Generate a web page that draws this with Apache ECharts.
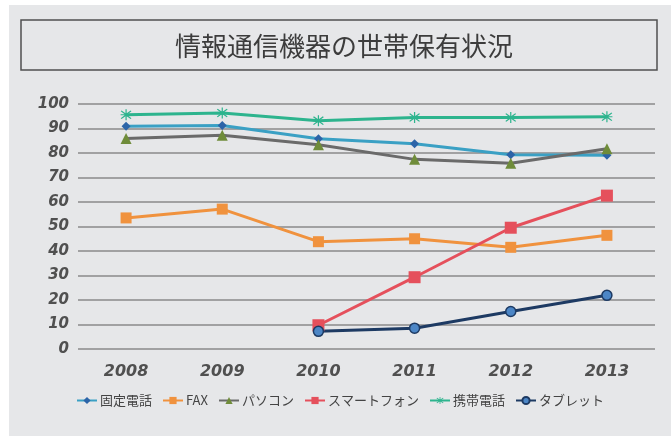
<!DOCTYPE html>
<html>
<head>
<meta charset="utf-8">
<script src="https://cdn.jsdelivr.net/npm/echarts@6/dist/echarts.min.js"></script>
<style>
  body { margin: 0; background: #ffffff; }
  #chart { position: absolute; left: 9px; top: 5px; width: 662px; height: 431px; background: #e6e7e9; }
</style>
</head>
<body>
<div id="chart"></div>
<script>
// データ (単位: %)
const years = ['2008', '2009', '2010', '2011', '2012', '2013'];
const koteiDenwa = [90.9, 91.2, 85.8, 83.8, 79.3, 79.1];
const fax = [53.5, 57.1, 43.8, 45.0, 41.5, 46.4];
const pasokon = [85.9, 87.2, 83.4, 77.4, 75.8, 81.7];
const sumaho = [null, null, 9.7, 29.3, 49.5, 62.6];
const keitai = [95.6, 96.3, 93.2, 94.5, 94.5, 94.8];
const tablet = [null, null, 7.2, 8.5, 15.3, 21.9];

const asterisk = 'path://M4,0L5,0L5,3.6L8.2,1.1L8.9,1.8L5.7,4.5L9,4.5L9,5.5L5.7,5.5L8.9,8.2L8.2,8.9L5,6.4L5,10L4,10L4,6.4L0.8,8.9L0.1,8.2L3.3,5.5L0,5.5L0,4.5L3.3,4.5L0.1,1.8L0.8,1.1L4,3.6Z';

const chart = echarts.init(document.getElementById('chart'));

function line(name, data, color, symbol, size, itemStyle) {
  return {
    name: name,
    type: 'line',
    data: data,
    symbol: symbol,
    symbolSize: size,
    showSymbol: true,
    lineStyle: { color: color, width: 3 },
    itemStyle: itemStyle || { color: color },
    emphasis: { disabled: true }
  };
}

const option = {
  animation: false,
  backgroundColor: '#e6e7e9',
  graphic: [{
    type: 'rect',
    shape: { x: 12, y: 15, width: 636, height: 50 },
    style: { fill: 'none', stroke: '#505050', lineWidth: 1.5 }
  }],
  title: {
    text: '情報通信機器の世帯保有状況',
    left: 330,
    textAlign: 'center',
    top: 23,
    textStyle: { fontFamily: 'Noto Sans CJK JP', fontSize: 26, fontWeight: 'normal', color: '#3c3c3c' }
  },
  legend: {
    top: 384,
    left: 'center',
    itemWidth: 20,
    itemHeight: 9,
    itemGap: 10,
    textStyle: { fontFamily: 'Noto Sans CJK JP', fontSize: 13, color: '#444', padding: [0, 0, 0, -2] },
    data: ['固定電話', 'FAX', 'パソコン', 'スマートフォン', '携帯電話', 'タブレット']
  },
  grid: { left: 69, right: 16, top: 99, bottom: 87 },
  xAxis: {
    type: 'category',
    data: years,
    boundaryGap: true,
    axisLine: { show: false },
    axisTick: { show: false },
    axisLabel: {
      margin: 15,
      fontFamily: 'DejaVu Sans',
      fontSize: 16,
      fontWeight: 'bold',
      fontStyle: 'italic',
      color: '#505050'
    }
  },
  yAxis: {
    type: 'value',
    min: 0,
    max: 100,
    interval: 10,
    axisLine: { show: false },
    axisTick: { show: false },
    splitLine: { lineStyle: { color: '#8a8a8a', width: 1.5 } },
    axisLabel: {
      margin: 9,
      fontFamily: 'DejaVu Sans',
      fontSize: 15,
      fontWeight: 'bold',
      fontStyle: 'italic',
      color: '#505050'
    }
  },
  series: [
    line('固定電話', koteiDenwa, '#3aa0c4', 'diamond', 9, { color: '#2c64a8' }),
    line('FAX', fax, '#f0923e', 'rect', 11, { color: '#f0923e' }),
    line('パソコン', pasokon, '#6a6a6a', 'triangle', 11, { color: '#6f8c3a' }),
    line('スマートフォン', sumaho, '#e5505c', 'rect', 12, { color: '#e5505c' }),
    line('携帯電話', keitai, '#2db48e', asterisk, 11, { color: '#2db48e' }),
    line('タブレット', tablet, '#1d3a63', 'circle', 10, { color: '#4c86c6', borderColor: '#1d3a63', borderWidth: 1.5 })
  ]
};

chart.setOption(option);
</script>
</body>
</html>
